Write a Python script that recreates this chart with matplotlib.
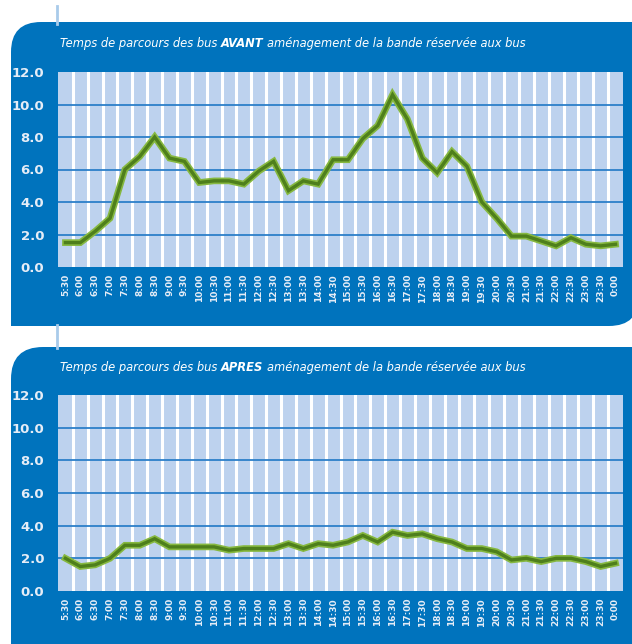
import numpy as np
import matplotlib
matplotlib.use('Agg')
import matplotlib.pyplot as plt
from matplotlib.patches import FancyBboxPatch, Rectangle

# ============================================================
# Data
# ============================================================
times = ['5:30', '6:00', '6:30', '7:00', '7:30', '8:00', '8:30', '9:00', '9:30',
         '10:00', '10:30', '11:00', '11:30', '12:00', '12:30', '13:00', '13:30',
         '14:00', '14:30', '15:00', '15:30', '16:00', '16:30', '17:00', '17:30',
         '18:00', '18:30', '19:00', '19:30', '20:00', '20:30', '21:00', '21:30',
         '22:00', '22:30', '23:00', '23:30', '0:00']

avant = [1.5, 1.5, 2.2, 3.0, 6.0, 6.8, 8.0, 6.7, 6.5, 5.2, 5.3, 5.3, 5.1,
         5.9, 6.5, 4.7, 5.3, 5.1, 6.6, 6.6, 7.9, 8.7, 10.6, 9.1, 6.7, 5.8,
         7.1, 6.2, 4.0, 3.0, 1.9, 1.9, 1.6, 1.3, 1.8, 1.4, 1.3, 1.4]

apres = [2.0, 1.5, 1.6, 2.0, 2.8, 2.8, 3.2, 2.7, 2.7, 2.7, 2.7, 2.5, 2.6,
         2.6, 2.6, 2.9, 2.6, 2.9, 2.8, 3.0, 3.4, 3.0, 3.6, 3.4, 3.5, 3.2,
         3.0, 2.6, 2.6, 2.4, 1.9, 2.0, 1.8, 2.0, 2.0, 1.8, 1.5, 1.7]

titles = [('Temps de parcours des bus', 'AVANT', 'aménagement de la bande réservée aux bus'),
          ('Temps de parcours des bus', 'APRES', 'aménagement de la bande réservée aux bus')]

yticks = [0, 2, 4, 6, 8, 10, 12]

# ============================================================
# Style
# ============================================================
PANEL = '#0073BD'
COLUMN = '#BDD2EE'
GRID = '#2C7FC9'
LINE_LIGHT = '#86B840'
LINE_DARK = '#4E7F1C'
PALE = '#A9CBEA'

W, H = 632, 644
fig = plt.figure(figsize=(W / 100, H / 100), dpi=100)
fig.patch.set_facecolor('white')

# background canvas in pixel coords
bg = fig.add_axes([0, 0, 1, 1], zorder=-1)
bg.set_xlim(0, W)
bg.set_ylim(H, 0)
bg.axis('off')

# connector lines on the left
bg.plot([57, 57], [6, 24], color=PALE, lw=2)
bg.plot([57, 57], [325, 348], color=PALE, lw=2)

# top panel: rounded top-left and bottom-right
bg.add_patch(FancyBboxPatch((11, 22), 628, 304, boxstyle='round,pad=0,rounding_size=30',
                            fc=PANEL, ec='none'))
bg.add_patch(Rectangle((11, 280), 60, 46, fc=PANEL, ec='none'))
bg.add_patch(Rectangle((580, 22), 60, 60, fc=PANEL, ec='none'))
# bottom panel: rounded top-left, running off the image
bg.add_patch(FancyBboxPatch((11, 347), 660, 340, boxstyle='round,pad=0,rounding_size=32',
                            fc=PANEL, ec='none'))
bg.add_patch(Rectangle((580, 347), 60, 60, fc=PANEL, ec='none'))


def draw_title(y, parts):
    t1 = bg.text(60, y, parts[0], color='white', style='italic', fontsize=8.3,
                 va='bottom', ha='left')
    t2 = bg.annotate(parts[1], xy=(1, 0), xycoords=t1, xytext=(2.5, 0),
                     textcoords='offset points', color='white', style='italic',
                     fontweight='bold', fontsize=8.3, va='bottom', ha='left')
    bg.annotate(parts[2], xy=(1, 0), xycoords=t2, xytext=(2.5, 0),
                textcoords='offset points', color='white', style='italic',
                fontsize=8.3, va='bottom', ha='left')


def draw_panel(rect, values):
    ax = fig.add_axes(rect)
    ax.set_facecolor(COLUMN)
    x = np.arange(len(times))
    ax.set_xlim(-0.5, len(times) - 0.5)
    ax.set_ylim(0, 12)

    for b in x[:-1] + 0.5:
        ax.axvline(b, color='white', lw=2.2, zorder=1)
    for g in yticks[1:-1]:
        ax.axhline(g, color=GRID, lw=1.3, zorder=2)

    ax.plot(x, values, color=LINE_LIGHT, lw=4.8, zorder=3, solid_joinstyle='miter')
    ax.plot(x, values, color=LINE_DARK, lw=2.4, zorder=4, solid_joinstyle='miter')

    for s in ax.spines.values():
        s.set_visible(False)
    ax.set_yticks(yticks)
    ax.set_yticklabels([f'{v:.1f}' for v in yticks], color='#E6EDF7',
                       fontweight='bold', fontsize=9.5)
    ax.set_xticks(x)
    ax.set_xticklabels(times, rotation=90, color='#E6EDF7', fontweight='bold',
                       fontsize=6.5, va='top')
    ax.tick_params(length=0, axis='y', pad=10)
    ax.tick_params(length=0, axis='x', pad=5)
    return ax


draw_panel([58 / W, 1 - 267 / H, 565 / W, 195 / H], avant)
draw_panel([58 / W, 1 - 591 / H, 565 / W, 196 / H], apres)

draw_title(50, titles[0])
draw_title(374, titles[1])

fig.savefig('out.png', dpi=100)
